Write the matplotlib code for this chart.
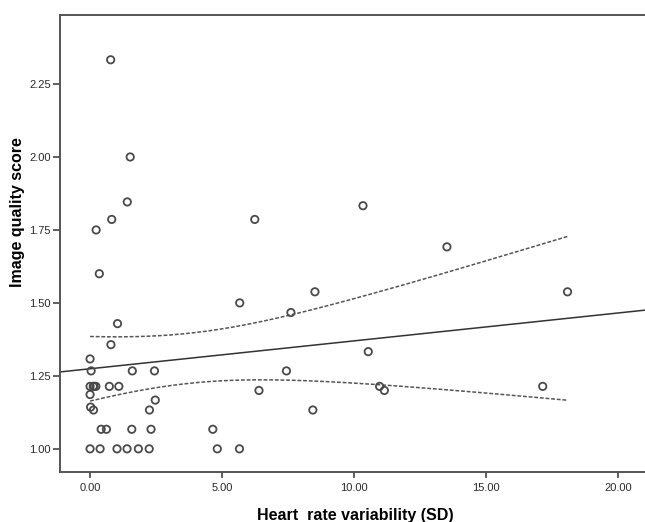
import numpy as np
import matplotlib
matplotlib.use('Agg')
import matplotlib.pyplot as plt
from matplotlib.ticker import FormatStrFormatter

plt.rcParams['font.family'] = ['Liberation Sans', 'DejaVu Sans']

# heart rate variability (SD) and image quality score
hrv = [0.78, 1.52, 1.41, 0.82, 0.23, 0.35, 1.04, 0.79, 0.00, 0.04,
       1.60, 2.44, 0.00, 0.12, 0.15, 0.22, 0.73, 1.09, 0.00, 2.47,
       0.02, 0.13, 2.25, 0.42, 0.62, 1.58, 2.31, 0.00, 0.38, 1.02,
       1.40, 1.83, 2.24,
       6.24, 10.34, 13.52, 8.52, 5.67, 7.61, 10.54, 7.44, 6.40, 10.97,
       11.15, 8.44, 4.65, 4.82, 5.66, 18.09, 17.15]
score = [2.333, 2.000, 1.846, 1.786, 1.750, 1.600, 1.429, 1.357, 1.308, 1.267,
         1.267, 1.267, 1.214, 1.214, 1.214, 1.214, 1.214, 1.214, 1.186, 1.167,
         1.143, 1.133, 1.133, 1.067, 1.067, 1.067, 1.067, 1.000, 1.000, 1.000,
         1.000, 1.000, 1.000,
         1.786, 1.833, 1.692, 1.538, 1.500, 1.467, 1.333, 1.267, 1.200, 1.214,
         1.200, 1.133, 1.067, 1.000, 1.000, 1.538, 1.214]

xticks = [0, 5, 10, 15, 20]
yticks = [1.00, 1.25, 1.50, 1.75, 2.00, 2.25]

x = np.array(hrv)
y = np.array(score)
n = len(x)

# linear fit + 95% CI of the mean
slope, icpt = np.polyfit(x, y, 1)
resid = y - (icpt + slope * x)
s = np.sqrt(np.sum(resid ** 2) / (n - 2))
sxx = np.sum((x - x.mean()) ** 2)
t_crit = 2.01
xs = np.linspace(x.min(), x.max(), 200)
half = t_crit * s * np.sqrt(1 / n + (xs - x.mean()) ** 2 / sxx)

fig = plt.figure(figsize=(6.45, 5.22), dpi=100)
ax = fig.add_axes([0.093, 0.096, 0.917, 0.875])

ax.scatter(x, y, s=28, facecolors='none', edgecolors='#4a4a4a', linewidths=1.3, zorder=3)

xl = np.array([-1.14, 21.27])
ax.plot(xl, icpt + slope * xl, color='#333333', lw=1.1)
ax.plot(xs, icpt + slope * xs + half, color='#555555', lw=1.1, ls=(0, (2.5, 1.2)))
ax.plot(xs, icpt + slope * xs - half, color='#555555', lw=1.1, ls=(0, (2.5, 1.2)))

ax.set_xlim(-1.14, 21.27)
ax.set_ylim(0.921, 2.486)
ax.set_xticks(xticks)
ax.set_yticks(yticks)
ax.xaxis.set_major_formatter(FormatStrFormatter('%.2f'))
ax.yaxis.set_major_formatter(FormatStrFormatter('%.2f'))
ax.tick_params(direction='out', length=5, width=1.2, colors='#444444',
               labelsize=8, labelcolor='#2a2a2a', pad=1.5)
ax.tick_params(axis='x', length=4, pad=4)
for sp in ax.spines.values():
    sp.set_color('#555555')
    sp.set_linewidth(1.4)

ax.set_xlabel('Heart  rate variability (SD)', fontsize=11.5, fontweight='bold', labelpad=11)
ax.set_ylabel('Image quality score', fontsize=11.5, fontweight='bold')
ax.yaxis.set_label_coords(-0.059, 0.569)

fig.savefig('out.png', dpi=100)
